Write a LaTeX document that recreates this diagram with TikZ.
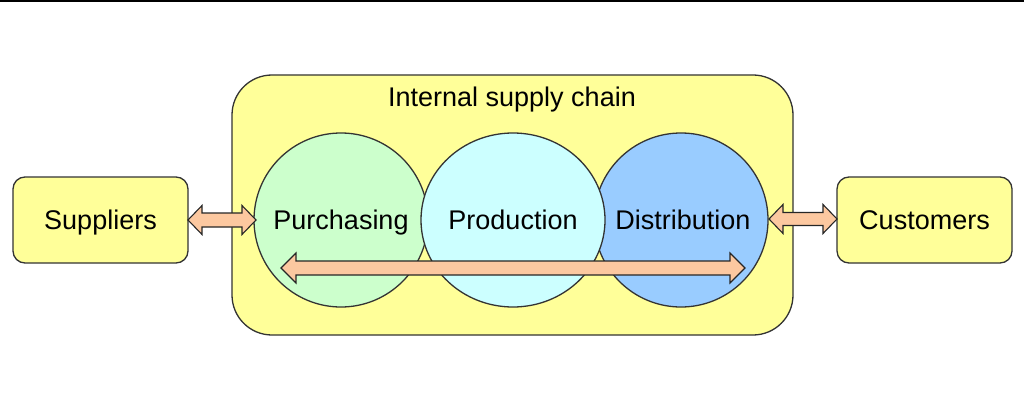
\documentclass[tikz,border=0pt]{standalone}
\usepackage{fontspec}
\setmainfont{Liberation Sans}
\usetikzlibrary{shapes.geometric}
\begin{document}
\begin{tikzpicture}[x=1pt,y=-1pt,
  outline/.style={draw=black!80, line width=1.3pt},
  endbox/.style={outline, fill=boxyellow, rounded corners=12pt, minimum width=175pt, minimum height=86pt, inner sep=0pt},
  stage/.style={outline, circle, minimum size=174pt, inner sep=0pt},
  lbl/.style={font=\fontsize{27}{32}\selectfont, inner sep=0pt, anchor=base},
  arrowfill/.style={draw=black!85, line width=1.1pt, fill=peach, line join=miter}
]
\definecolor{boxyellow}{HTML}{FFFF99}
\definecolor{peach}{HTML}{FCC8A0}
\definecolor{pgreen}{HTML}{CCFFCC}
\definecolor{pcyan}{HTML}{CCFFFF}
\definecolor{pblue}{HTML}{99CCFF}
\useasboundingbox (0,0) rectangle (1024,406);
\fill[white] (0,0) rectangle (1024,406);
\draw[line width=2.5pt] (0,1) -- (1024,1);

% container
\node[outline, fill=boxyellow, rounded corners=40pt, minimum width=561pt, minimum height=260pt, inner sep=0pt] (chain) at (512.5,205) {};
\node[lbl] (title) at (512,106.5) {Internal supply chain};

% end boxes
\node[endbox] (sup) at (100.5,220) {};
\node[lbl] (supt) at (100.5,229.5) {Suppliers};
\node[endbox] (cus) at (924.5,220) {};
\node[lbl] (cust) at (924.5,229.5) {Customers};

% circles
\node[stage, fill=pgreen] (pur) at (341,220) {};
\node[stage, fill=pblue] (dis) at (681,220) {};
\node[outline, ellipse, fill=pcyan, minimum width=184pt, minimum height=174pt, inner sep=0pt] (pro) at (513,220) {};
\node[lbl] (purt) at (341,229.5) {Purchasing};
\node[lbl] (prot) at (513,229.5) {Production};
\node[lbl] (dist) at (683,229.5) {Distribution};

% double arrow macro: #1 left tip x, #2 right tip x, #3 y, #4 shaft half, #5 head half, #6 head length
\newcommand{\dblarr}[6]{%
  \filldraw[arrowfill] (#1,#3) -- ({#1+#6},{#3-#5}) -- ({#1+#6},{#3-#4}) -- ({#2-#6},{#3-#4}) -- ({#2-#6},{#3-#5}) -- (#2,#3) -- ({#2-#6},{#3+#5}) -- ({#2-#6},{#3+#4}) -- ({#1+#6},{#3+#4}) -- ({#1+#6},{#3+#5}) -- cycle;}

\dblarr{188}{256}{220}{7}{14.5}{14}
\dblarr{769}{837}{219}{6.5}{14.5}{14}
\dblarr{281}{745}{268}{7}{15}{15}
\end{tikzpicture}
\end{document}
